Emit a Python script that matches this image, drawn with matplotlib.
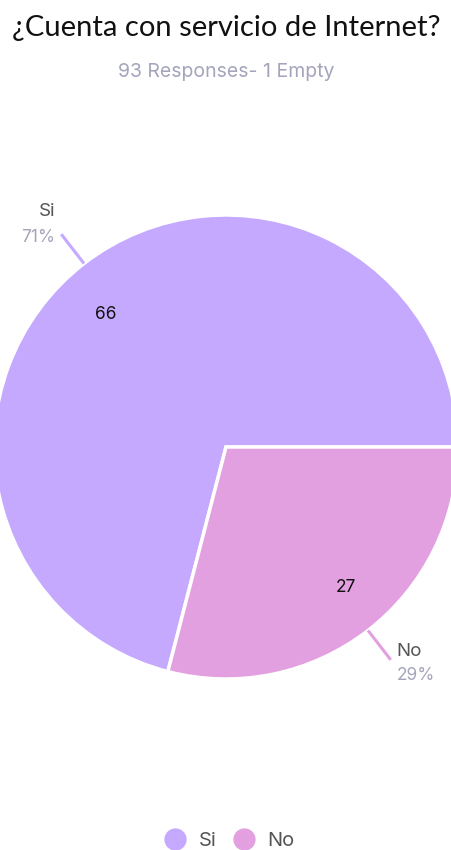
import matplotlib
matplotlib.use("Agg")
import matplotlib.pyplot as plt
from matplotlib.lines import Line2D
import numpy as np

plt.rcParams['font.family'] = ['Lato', 'DejaVu Sans']

title = "¿Cuenta con servicio de Internet?"
subtitle = "93 Responses- 1 Empty"
labels = ["Si", "No"]
counts = [66, 27]
colors = ["#c5a9ff", "#e2a0e1"]

W, H = 451, 850
fig = plt.figure(figsize=(W / 100, H / 100), dpi=100)
ax = fig.add_axes([0, 0, 1, 1])

cx, cy, r = 226, H - 447, 232
total = sum(counts)
start = -360 * counts[1] / total

wedges, _ = ax.pie(counts, colors=colors, center=(cx, cy), radius=r,
                   startangle=start, counterclock=False, frame=True,
                   wedgeprops=dict(edgecolor='white', linewidth=2.5))
ax.set_xlim(0, W)
ax.set_ylim(0, H)
ax.set_aspect('equal')
ax.axis('off')

font2 = ['Inter', 'DejaVu Sans']
for w, lab, n, col in zip(wedges, labels, counts, colors):
    mid_deg = (w.theta1 + w.theta2) / 2
    mid = np.deg2rad(mid_deg)
    c, s = np.cos(mid), np.sin(mid)
    # count inside the slice
    a = np.deg2rad(mid_deg + 3.5)
    ax.text(cx + 0.785 * r * np.cos(a), cy + 0.785 * r * np.sin(a) - 4, str(n),
            ha='center', va='center', fontsize=12.5, color='#111111', family=font2)
    # leader line
    x0, y0 = cx + 1.0 * r * c, cy + 1.0 * r * s
    x1, y1 = cx + 1.16 * r * c, cy + 1.16 * r * s
    ax.plot([x0, x1], [y0, y1], color=col, lw=2.2, solid_capstyle='butt')
    pct = f"{round(100 * n / total)}%"
    if c < 0:
        tx, ha = x1 - 6, 'right'
    else:
        tx, ha = x1 + 6, 'left'
    if s > 0:
        ny, py = y1 + 23, y1 - 3
    else:
        ny, py = y1 + 8, y1 - 16
    ax.text(tx, ny, lab, ha=ha, va='center', fontsize=13.5, color='#555555',
            family=font2)
    ax.text(tx, py, pct, ha=ha, va='center', fontsize=12.5, color='#a4a4bc',
            family=font2)

fig.text(226 / W, 1 - 28 / H, title, ha='center', va='center', fontsize=21,
         color='#111111')
fig.text(226 / W, 1 - 72 / H, subtitle, ha='center', va='center', fontsize=14,
         color='#a4a4bc', family=font2)

handles = [Line2D([], [], marker='o', linestyle='', markersize=15,
                  markerfacecolor=col, markeredgecolor=col) for col in colors]
fig.legend(handles, labels, loc='center', bbox_to_anchor=(229 / W, 1 - 841 / H),
           ncol=2, frameon=False, handletextpad=0.55, columnspacing=0.8,
           handlelength=1.2,
           prop={'size': 14.5, 'family': font2}, labelcolor='#555555')

fig.savefig("out.png", dpi=100)
